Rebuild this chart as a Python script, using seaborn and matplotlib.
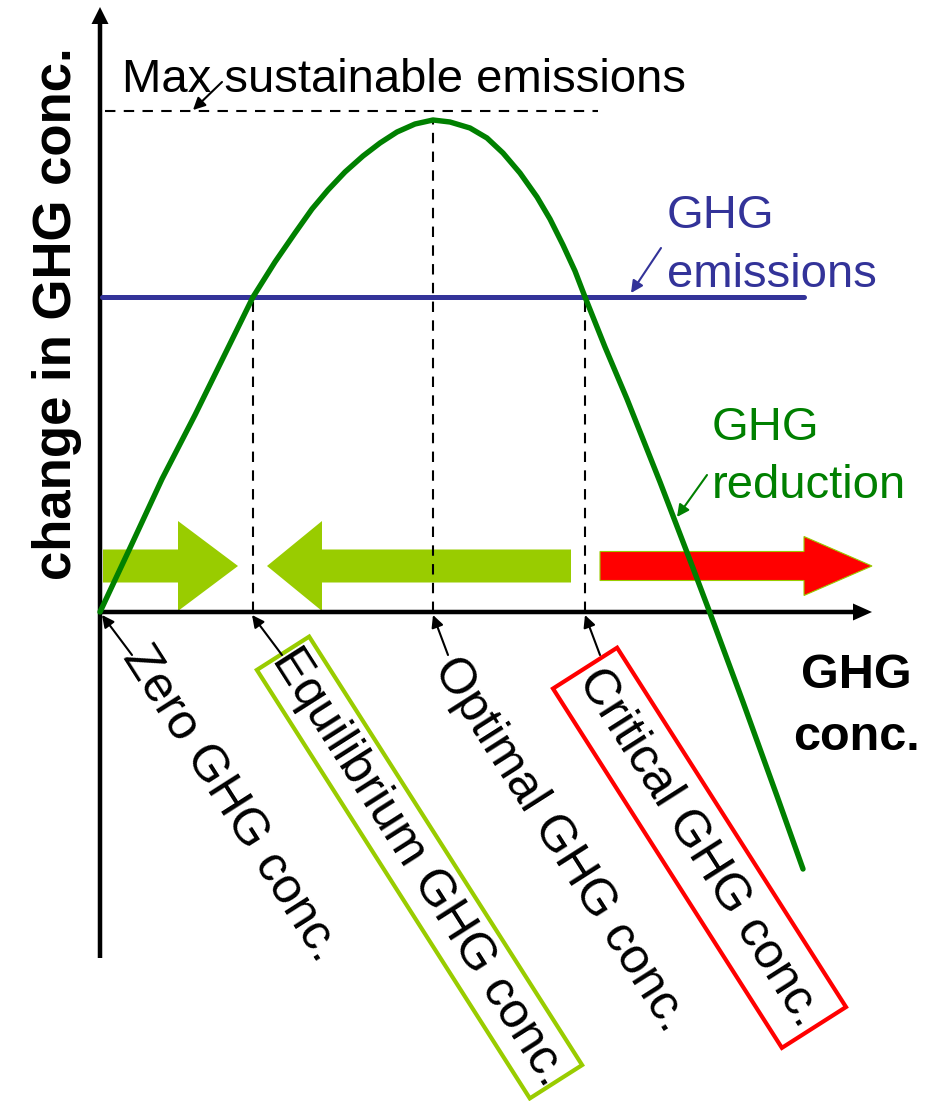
import matplotlib
matplotlib.use('Agg')
import matplotlib.pyplot as plt
from matplotlib.patches import Rectangle
import seaborn as sns

# GHG reduction curve (x = GHG conc., y = change in GHG conc.)
conc = [0.00, 0.30, 0.62, 0.95, 1.25, 1.53, 1.75, 1.95, 2.12, 2.28, 2.45, 2.63,
        2.80, 2.97, 3.15, 3.33, 3.50, 3.70, 3.87, 4.03, 4.20, 4.37, 4.50, 4.63,
        4.75, 4.85, 5.05, 5.27, 5.60, 5.93, 6.10, 6.43, 6.77, 7.03]
reduction = [0.00, 0.64, 1.33, 1.97, 2.58, 3.15, 3.50, 3.79, 4.03, 4.22, 4.40, 4.56,
             4.69, 4.80, 4.88, 4.92, 4.90, 4.84, 4.74, 4.59, 4.39, 4.15, 3.93, 3.67,
             3.41, 3.15, 2.65, 2.13, 1.30, 0.44, -0.01, -0.90, -1.84, -2.57]

# GHG emissions level and its extent
emissions_level = 3.15
emissions_x = [0.02, 7.04]
max_sustainable = 5.01

# key concentrations on the x axis
x_zero = 0.0
x_equilibrium = 1.53
x_optimal = 3.33
x_critical = 4.85

GREEN = '#008000'
BLUE = '#333399'
LIME = '#99CC00'
RED = '#FF0000'

sns.set_style('white')
plt.rcParams['font.family'] = ['Liberation Sans', 'DejaVu Sans']
plt.rcParams['text.color'] = 'black'

fig = plt.figure(figsize=(9.37, 11.01), dpi=100)
ax = fig.add_axes([0, 0, 1, 1])
ax.set_xlim(-1.00, 8.37)
ax.set_ylim(-4.89, 6.12)
ax.axis('off')

# axes arrows
ax.arrow(0, -3.46, 0, 9.51, width=0.045, head_width=0.17, head_length=0.17,
         length_includes_head=True, fc='k', ec='k', lw=0, zorder=4)
ax.arrow(0, 0, 7.72, 0, width=0.045, head_width=0.17, head_length=0.19,
         length_includes_head=True, fc='k', ec='k', lw=0, zorder=4)

# direction arrows
ax.arrow(0.03, 0.46, 1.35, 0, width=0.33, head_width=0.90, head_length=0.60,
         length_includes_head=True, fc=LIME, ec=LIME, lw=0, zorder=2)
ax.arrow(4.71, 0.46, -3.04, 0, width=0.33, head_width=0.90, head_length=0.55,
         length_includes_head=True, fc=LIME, ec=LIME, lw=0, zorder=2)
ax.arrow(5.00, 0.46, 2.72, 0, width=0.29, head_width=0.59, head_length=0.68,
         length_includes_head=True, fc=RED, ec=LIME, lw=0.8, zorder=2)

# dashed guide lines
dash = (0, (5, 4))
ax.plot([0.05, 4.98], [max_sustainable, max_sustainable], color='k', lw=1.5, ls=dash, zorder=3)
ax.plot([x_optimal, x_optimal], [0, 4.94], color='k', lw=1.5, ls=dash, zorder=3)
ax.plot([x_equilibrium, x_equilibrium], [0, emissions_level], color='k', lw=1.5, ls=dash, zorder=3)
ax.plot([x_critical, x_critical], [0, emissions_level], color='k', lw=1.5, ls=dash, zorder=3)

# emissions and reduction lines
sns.lineplot(x=emissions_x, y=[emissions_level, emissions_level], ax=ax,
             color=BLUE, lw=3.6, zorder=5)
sns.lineplot(x=conc, y=reduction, ax=ax, color=GREEN, lw=3.9, zorder=6, sort=False,
             solid_joinstyle='round')

# texts
ax.text(0.22, 5.20, 'Max sustainable emissions', fontsize=34, ha='left', va='baseline')
ax.text(5.67, 3.84, 'GHG', fontsize=34, color=BLUE, ha='left', va='baseline')
ax.text(5.67, 3.25, 'emissions', fontsize=34, color=BLUE, ha='left', va='baseline')
ax.text(6.12, 1.72, 'GHG', fontsize=34, color=GREEN, ha='left', va='baseline')
ax.text(6.12, 1.14, 'reduction', fontsize=34, color=GREEN, ha='left', va='baseline')
ax.text(7.565, -0.76, 'GHG', fontsize=35, fontweight='bold', ha='center', va='baseline')
ax.text(7.565, -1.38, 'conc.', fontsize=35, fontweight='bold', ha='center', va='baseline')
ax.text(-0.43, 2.98, 'change in GHG conc.', fontsize=38, fontweight='bold',
        rotation=90, ha='center', va='center')

# small pointer arrows
def pointer(tip, tail, color='k'):
    ax.annotate('', xy=tip, xytext=tail,
                arrowprops=dict(arrowstyle='-|>', lw=1.5, color=color,
                                mutation_scale=18, shrinkA=0, shrinkB=0), zorder=7)

pointer((0.93, 5.02), (1.22, 5.30))
pointer((5.31, 3.19), (5.61, 3.64), BLUE)
pointer((5.77, 0.95), (6.07, 1.37), GREEN)
pointer((x_zero + 0.02, -0.03), (x_zero + 0.32, -0.43))
pointer((x_equilibrium - 0.01, -0.03), (x_equilibrium + 0.29, -0.43))
pointer((x_optimal, -0.03), (x_optimal + 0.15, -0.43))
pointer((x_critical, -0.03), (x_critical + 0.15, -0.43))

# rotated labels
ang = -57.5
ax.text(1.31, -1.92, 'Zero GHG conc.', fontsize=36, rotation=ang,
        rotation_mode='anchor', ha='center', va='center')
ax.text(3.195, -2.555, 'Equilibrium GHG conc.', fontsize=36, rotation=ang,
        rotation_mode='anchor', ha='center', va='center')
ax.text(4.60, -2.33, 'Optimal GHG conc.', fontsize=36, rotation=ang,
        rotation_mode='anchor', ha='center', va='center')
ax.text(5.995, -2.358, 'Critical GHG conc.', fontsize=36, rotation=ang,
        rotation_mode='anchor', ha='center', va='center')

for (cx, cy), w, h, col in [((3.195, -2.555), 5.08, 0.62, LIME),
                             ((5.995, -2.358), 4.26, 0.76, RED)]:
    ax.add_patch(Rectangle((cx - w / 2, cy - h / 2), w, h, angle=ang,
                           rotation_point='center', fill=False, ec=col, lw=3))

fig.savefig('out.png', dpi=100)
